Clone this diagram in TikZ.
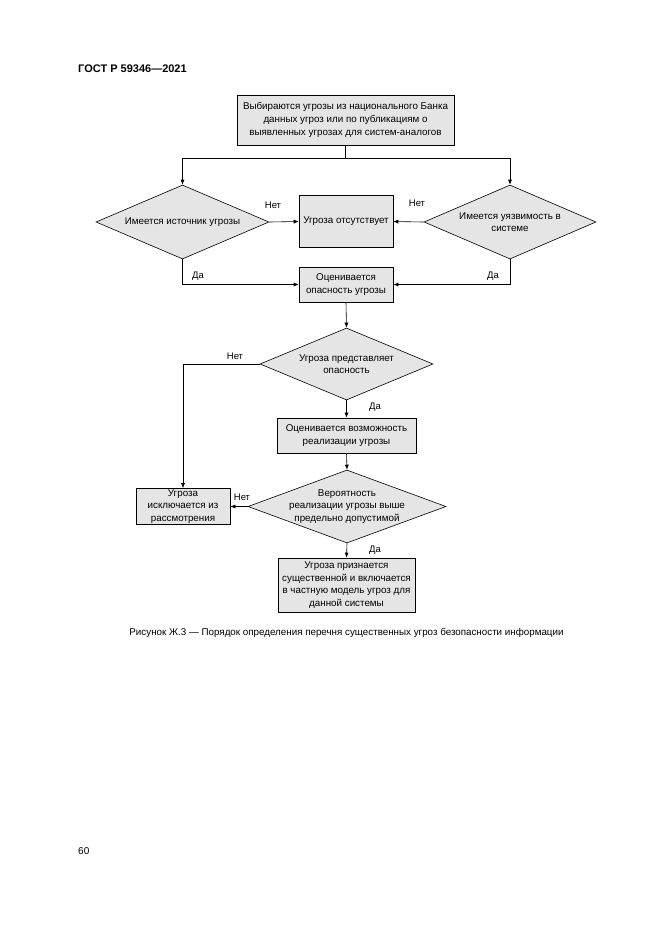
\documentclass[tikz,border=0pt]{standalone}
\usepackage{fontspec}
\setmainfont{Liberation Sans}
\usetikzlibrary{shapes.geometric,arrows.meta}
\definecolor{boxgray}{RGB}{229,229,229}
\begin{document}
\begin{tikzpicture}[x=1pt,y=-1pt,
  txt/.style={font=\fontsize{9.8}{12.6}\selectfont},
  box/.style={draw, fill=boxgray, line width=0.6pt, inner sep=0pt, align=center, txt},
  dia/.style={draw, fill=boxgray, diamond, line width=0.6pt, inner sep=0pt},
  dtext/.style={align=center, txt},
  lbl/.style={font=\fontsize{9.5}{11}\selectfont, inner sep=0pt},
  arr/.style={-{Latex[length=5pt,width=4pt]}, line width=0.6pt},
  ]
\useasboundingbox (0,0) rectangle (661,935);
\fill[white] (0,0) rectangle (661,935);

\node[anchor=base west, font=\bfseries\fontsize{11}{13}\selectfont, inner sep=0pt] (hdr) at (78,72) {ГОСТ Р 59346—2021};
\node[anchor=base west, font=\fontsize{10}{12}\selectfont, inner sep=0pt] (pg) at (78,854) {60};

\node[box, minimum width=217, minimum height=50] (top) at (345.5,120)
  {Выбираются угрозы из национального Банка\\данных угроз или по публикациям о\\выявленных угрозах для систем-аналогов};

\node[dia, minimum width=173, minimum height=74,
  label={[dtext, name=d1t]center:Имеется источник угрозы}] (d1) at (182.5,222) {};
\node[dia, minimum width=172, minimum height=74,
  label={[dtext, name=d2t]center:Имеется уязвимость в\\системе}] (d2) at (510,222) {};

\node[box, minimum width=94, minimum height=52] (noth) at (346,221.5) {Угроза отсутствует};
\node[box, minimum width=94, minimum height=35] (est) at (346,284.5) {Оценивается\\опасность угрозы};

\node[dia, minimum width=173, minimum height=72,
  label={[dtext, name=d3t]center:Угроза представляет\\опасность}] (d3) at (346.5,364) {};

\node[box, minimum width=139, minimum height=35] (poss) at (346.5,435.5) {Оценивается возможность\\реализации угрозы};

\node[dia, minimum width=198, minimum height=73,
  label={[dtext, name=d4t]center:Вероятность\\реализации угрозы выше\\предельно допустимой}] (d4) at (347,506.5) {};

\node[box, minimum width=94, minimum height=36] (excl) at (183,506.5) {Угроза\\исключается из\\рассмотрения};

\node[box, minimum width=137, minimum height=54] (sig) at (346.5,585)
  {Угроза признается\\существенной и включается\\в частную модель угроз для\\данной системы};

\draw[arr] (top.south) -- ++(0,13) -| (d1.north);
\draw[arr] (top.south) -- ++(0,13) -| (d2.north);
\draw[arr] (d1.east) -- (noth.west);
\draw[arr] (d2.west) -- (noth.east);
\draw[arr] (d1.south) |- (est.west);
\draw[arr] (d2.south) |- (est.east);
\draw[arr] (est.south) -- (d3.north);
\draw[arr] (d3.west) -| (excl.north);
\draw[arr] (d3.south) -- (poss.north);
\draw[arr] (poss.south) -- (d4.north);
\draw[arr] (d4.west) -- (excl.east);
\draw[arr] (d4.south) -- (sig.north);

\node[lbl] (n1) at (273,205) {Нет};
\node[lbl] (n2) at (417,203) {Нет};
\node[lbl] (y1) at (198,276) {Да};
\node[lbl] (y2) at (493,276) {Да};
\node[lbl] (n3) at (235,356) {Нет};
\node[lbl] (y3) at (375,407) {Да};
\node[lbl] (n4) at (242,497) {Нет};
\node[lbl] (y4) at (375,550) {Да};

\node[font=\fontsize{9.8}{12}\selectfont, inner sep=0pt, anchor=base] (cap) at (346.5,635)
  {Рисунок Ж.3 — Порядок определения перечня существенных угроз безопасности информации};
\end{tikzpicture}
\end{document}
